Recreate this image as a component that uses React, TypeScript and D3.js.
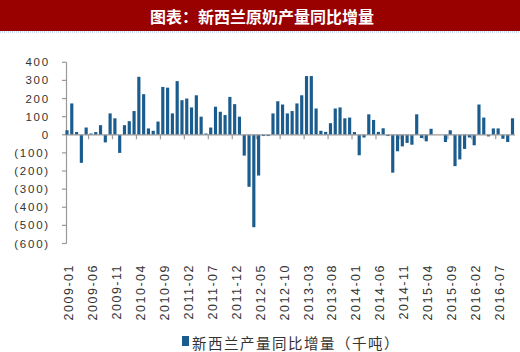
import React from "react";
import * as d3 from "d3";

const TITLE = "图表：新西兰原奶产量同比增量";
const LEGEND = "新西兰产量同比增量（千吨）";

const months: string[] = d3
  .timeMonths(new Date(2009, 0, 1), new Date(2016, 10, 1))
  .map((d) => d3.timeFormat("%Y-%m")(d));

const values: number[] = [
  25, 173, 15, -155, 40, 7, 15, 53, -42, 118,
  91, -100, 53, 75, 131, 320, 224, 35, 22, 73,
  264, 260, 118, 296, 191, 200, 151, 218, 100, 7,
  40, 155, 127, 109, 209, 169, 100, -115, -287, -510,
  -225, -7, -7, 118, 185, 167, 118, 131, 173, 218,
  324, 324, 145, 22, 16, 64, 145, 151, 91, 95,
  15, -113, -15, 113, 82, 16, 36, -7, -209, -91,
  -64, -45, -55, 113, -18, -36, 33, 0, 0, -40,
  25, -173, -136, -78, -15, -58, 167, 95, -9, 35,
  35, -22, -40, 91,
];

const yTicks: number[] = [400, 300, 200, 100, 0, -100, -200, -300, -400, -500, -600];
const xTickLabels: string[] = [
  "2009-01", "2009-06", "2009-11", "2010-04", "2010-09", "2011-02", "2011-07",
  "2011-12", "2012-05", "2012-10", "2013-03", "2013-08", "2014-01", "2014-06",
  "2014-11", "2015-04", "2015-09", "2016-02", "2016-07",
];

const W = 520;
const H = 352;
const BAR = "#1B5C8E";

export default function App() {
  const x = d3.scaleBand<string>().domain(months).range([64.6, 514.9]).paddingInner(0.34).paddingOuter(0.17);
  const y = d3.scaleLinear().domain([-600, 400]).range([243.5, 62.3]);
  const step = x.step();
  const x0 = 64.6;
  const fmt = (v: number) => (v < 0 ? `(${-v})` : `${v}`);
  const boundaries = d3.range(5, months.length, 5);

  return (
    <svg width={W} height={H} style={{ position: "absolute", left: 0, top: 0, background: "#fff" }}>
      <rect x={0} y={0} width={W} height={31} fill="#990000" />
      <text
        x={262}
        y={16}
        textAnchor="middle"
        dominantBaseline="central"
        fill="#fff"
        fontSize={16}
        fontWeight="bold"
        fontFamily="'Noto Sans CJK SC', sans-serif"
      >
        {TITLE}
      </text>
      <line x1={0} x2={W} y1={32} y2={32} stroke="#9bb8e2" strokeDasharray="1,1" />

      {/* y axis */}
      <line x1={66.5} x2={66.5} y1={y(400)} y2={y(-600)} stroke="#999" strokeWidth={1.2} />
      {yTicks.map((t) => (
        <g key={t}>
          <line x1={62} x2={66.5} y1={y(t)} y2={y(t)} stroke="#999" strokeWidth={1.2} />
          <text
            x={50}
            y={y(t)}
            textAnchor="end"
            dominantBaseline="central"
            fontSize={11.5}
            letterSpacing={1.8}
            fill="#333"
            fontFamily="'Liberation Sans', Arial, sans-serif"
          >
            {fmt(t)}
          </text>
        </g>
      ))}

      {/* bars */}
      {values.map((v, i) => (
        <rect
          key={months[i]}
          x={x(months[i])}
          width={x.bandwidth()}
          y={y(Math.max(0, v))}
          height={Math.abs(y(v) - y(0))}
          fill={BAR}
        />
      ))}

      {/* zero line and ticks */}
      <line x1={66.5} x2={515} y1={y(0)} y2={y(0)} stroke="#999" strokeWidth={1.2} />
      {boundaries.map((b) => (
        <line key={b} x1={x0 + b * step} x2={x0 + b * step} y1={y(0)} y2={y(0) + 4.5} stroke="#999" strokeWidth={1.2} />
      ))}

      {xTickLabels.map((lab) => {
        const cx = (x(lab) ?? 0) + x.bandwidth() / 2 + 2;
        return (
          <text
            key={lab}
            transform={`translate(${cx},264) rotate(-90)`}
            textAnchor="end"
            dominantBaseline="central"
            fontSize={12.5}
            letterSpacing={1.5}
            fill="#333"
            fontFamily="'Liberation Sans', Arial, sans-serif"
          >
            {lab}
          </text>
        );
      })}

      {/* legend */}
      <rect x={182} y={336} width={7} height={10} fill={BAR} />
      <text
        x={192}
        y={342}
        dominantBaseline="central"
        fontSize={14.5}
        letterSpacing={1.5}
        fill="#333"
        fontFamily="'Noto Sans CJK SC', sans-serif"
      >
        {LEGEND}
      </text>
    </svg>
  );
}
